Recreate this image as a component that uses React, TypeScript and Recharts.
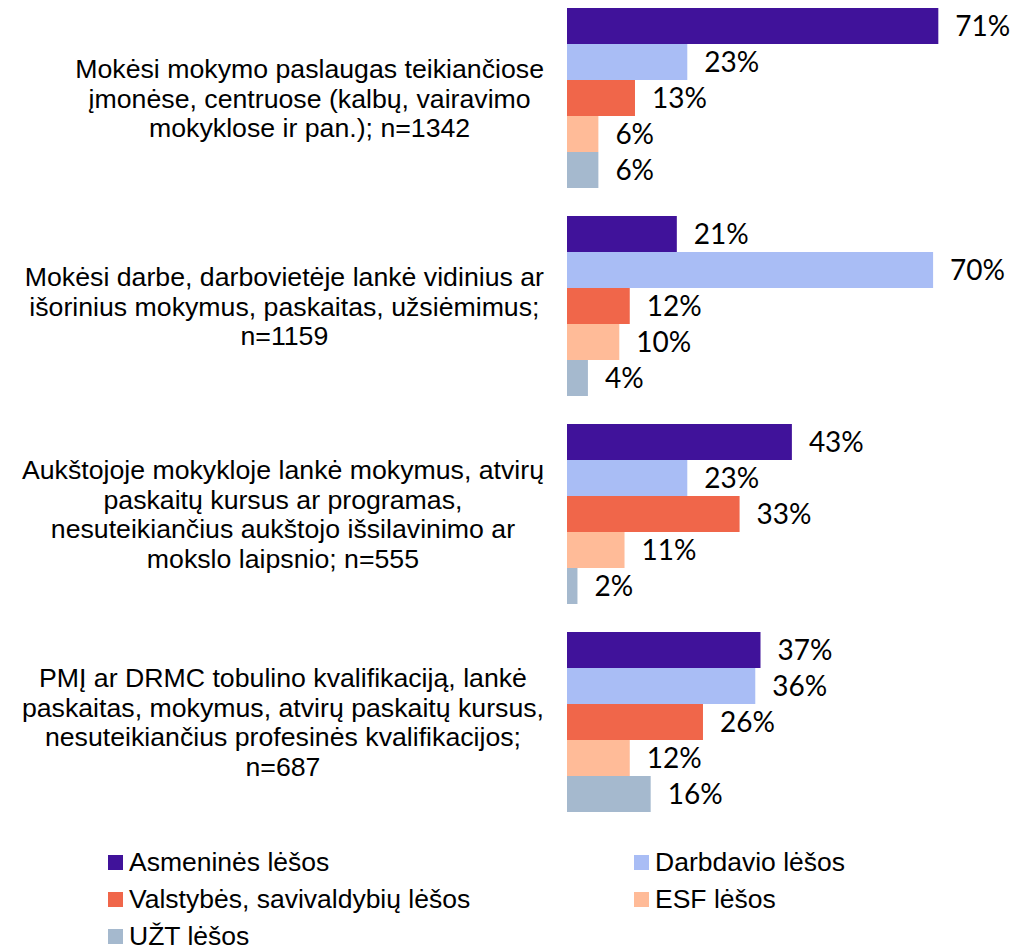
import { BarChart, Bar, XAxis, YAxis, LabelList } from 'recharts'

const categories = [
  'Mokėsi mokymo paslaugas teikiančiose\nįmonėse, centruose (kalbų, vairavimo\nmokyklose ir pan.); n=1342',
  'Mokėsi darbe, darbovietėje lankė vidinius ar\nišorinius mokymus, paskaitas, užsiėmimus;\nn=1159',
  'Aukštojoje mokykloje lankė mokymus, atvirų\npaskaitų kursus ar programas,\nnesuteikiančius aukštojo išsilavinimo ar\nmokslo laipsnio; n=555',
  'PMĮ ar DRMC tobulino kvalifikaciją, lankė\npaskaitas, mokymus, atvirų paskaitų kursus,\nnesuteikiančius profesinės kvalifikacijos;\nn=687',
]
const asmenines = [71, 21, 43, 37]
const darbdavio = [23, 70, 23, 36]
const valstybes = [13, 12, 33, 26]
const esf = [6, 10, 11, 12]
const uzt = [6, 4, 2, 16]

const series = [
  { key: 'asmenines', name: 'Asmeninės lėšos', color: '#40129a', values: asmenines },
  { key: 'darbdavio', name: 'Darbdavio lėšos', color: '#a9bdf5', values: darbdavio },
  { key: 'valstybes', name: 'Valstybės, savivaldybių lėšos', color: '#f0664a', values: valstybes },
  { key: 'esf', name: 'ESF lėšos', color: '#ffbb98', values: esf },
  { key: 'uzt', name: 'UŽT lėšos', color: '#a5b9ce', values: uzt },
]

const chartData = categories.map((label, i) => {
  const row: Record<string, string | number> = { label }
  series.forEach(s => { row[s.key] = s.values[i] })
  return row
})

const labelFont = "26.7px 'Liberation Sans', Arial, sans-serif"
let ctx: CanvasRenderingContext2D | null = null
function textWidth(t: string) {
  if (!ctx) ctx = document.createElement('canvas').getContext('2d')
  if (!ctx) return t.length * 13
  ctx.font = labelFont
  return ctx.measureText(t).width
}

// multi-line category label, centred in a box whose right edge sits near the bars
function CategoryTick(props: any) {
  const { y, payload } = props
  const lines = String(payload.value).split('\n')
  const widest = Math.max(...lines.map(textWidth))
  const cx = 544 - widest / 2
  const lh = 29.5
  const start = -((lines.length - 1) / 2) * lh
  return (
    <text x={cx} y={y} textAnchor="middle" fill="#000"
      style={{ font: labelFont }}>
      {lines.map((l, i) => (
        <tspan key={i} x={cx} y={y + start + i * lh} dy="0.36em">{l}</tspan>
      ))}
    </text>
  )
}

export default function App() {
  return (
    <div style={{ position: 'absolute', left: 0, top: 0, width: 1022, height: 949, background: '#fff' }}>
      <div style={{ position: 'absolute', left: 0, top: -6.5 }}>
        <BarChart width={1022} height={832} data={chartData} layout="vertical"
          margin={{ top: 0, right: 0, bottom: 0, left: 0 }} barGap={0}>
          <XAxis type="number" domain={[0, 87]} hide />
          <YAxis type="category" dataKey="label" width={567} axisLine={false} tickLine={false}
            tick={<CategoryTick />} interval={0} />
          {series.map(s => (
            <Bar key={s.key} dataKey={s.key} fill={s.color} barSize={36} isAnimationActive={false}>
              <LabelList dataKey={s.key} position="right" offset={17}
                formatter={(v: any) => `${v}%`}
                style={{ fontFamily: 'Lato, sans-serif', fontSize: 28, fill: '#000' }} />
            </Bar>
          ))}
        </BarChart>
      </div>
      <div style={{ position: 'absolute', left: 108, top: 843.5, display: 'grid',
        gridTemplateColumns: '526px 300px', rowGap: 0,
        fontFamily: "'Liberation Sans', Arial, sans-serif", fontSize: 26.5, color: '#000' }}>
        {series.map(s => (
          <div key={s.key} style={{ display: 'flex', alignItems: 'center', height: 37 }}>
            <span style={{ width: 15, height: 15, background: s.color, marginRight: 6, display: 'inline-block' }} />
            <span>{s.name}</span>
          </div>
        ))}
      </div>
    </div>
  )
}
